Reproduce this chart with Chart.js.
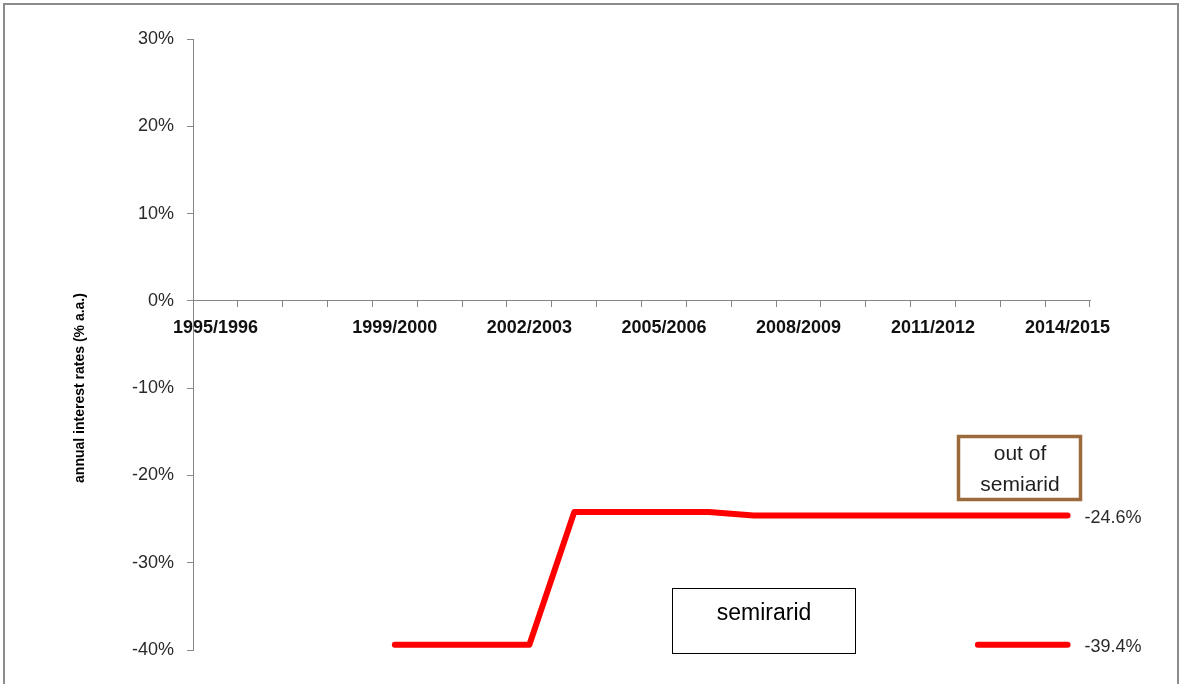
<!DOCTYPE html>
<html>
<head>
<meta charset="utf-8">
<script src="https://cdn.jsdelivr.net/npm/chart.js@4/dist/chart.umd.min.js"></script>
<style>
    html, body { margin: 0; padding: 0; background: #fff; }
    #wrap { width: 1180px; height: 684px; }
</style>
</head>
<body>
<div id="wrap"><canvas id="rates" width="1180" height="684"></canvas></div>
<script>
// seasons on the x axis (all 20 categories)
const seasons = [
    '1995/1996', '1996/1997', '1997/1998', '1998/1999', '1999/2000',
    '2000/2001', '2001/2002', '2002/2003', '2003/2004', '2004/2005',
    '2005/2006', '2006/2007', '2007/2008', '2008/2009', '2009/2010',
    '2010/2011', '2011/2012', '2012/2013', '2013/2014', '2014/2015'
];
// only these get a printed label
const shownSeasons = ['1995/1996', '1999/2000', '2002/2003', '2005/2006', '2008/2009', '2011/2012', '2014/2015'];

// annual interest rates, % a.a.
const outOfSemiarid = [null, null, null, null, -39.4, -39.4, -39.4, -39.4, -24.2, -24.2,
    -24.2, -24.2, -24.6, -24.6, -24.6, -24.6, -24.6, -24.6, -24.6, -24.6];
const semiarid = [null, null, null, null, null, null, null, null, null, null,
    null, null, null, null, null, null, null, -39.4, -39.4, -39.4];

const yTicks = [30, 20, 10, 0, -10, -20, -30, -40];

const axisGray = '#868686';
const textColor = '#2a2a2a';

// frame, y title, text boxes and end labels
const decorPlugin = {
    id: 'decor',
    beforeDraw(chart) {
        const ctx = chart.ctx;
        ctx.save();
        ctx.fillStyle = '#fff';
        ctx.fillRect(0, 0, chart.width, chart.height);
        ctx.strokeStyle = '#8c8c8c';
        ctx.lineWidth = 2;
        ctx.strokeRect(4, 4, 1174, 800);
        ctx.restore();
    },
    afterDraw(chart) {
        const ctx = chart.ctx;
        ctx.save();

        // axis title
        ctx.translate(80, 388);
        ctx.rotate(-Math.PI / 2);
        ctx.font = 'bold 14px "Liberation Sans", Arial, sans-serif';
        ctx.fillStyle = '#000';
        ctx.textAlign = 'center';
        ctx.textBaseline = 'middle';
        ctx.fillText('annual interest rates (% a.a.)', 0, 0);
        ctx.setTransform(1, 0, 0, 1, 0, 0);

        // value at the end of each line
        const x = chart.scales.x;
        const y = chart.scales.y;
        ctx.font = '18px "Liberation Sans", Arial, sans-serif';
        ctx.fillStyle = textColor;
        ctx.textAlign = 'left';
        chart.data.datasets.forEach(ds => {
            const last = ds.data.length - 1;
            const v = ds.data[last];
            ctx.fillText(v.toFixed(1) + '%', x.getPixelForValue(last) + 17, y.getPixelForValue(v) + 2);
        });

        // "semirarid" box
        ctx.strokeStyle = '#000';
        ctx.lineWidth = 1;
        ctx.strokeRect(672.5, 588.5, 183, 65);
        ctx.fillStyle = '#000';
        ctx.font = '23px "Liberation Sans", Arial, sans-serif';
        ctx.textAlign = 'center';
        ctx.fillText('semirarid', 764, 614);

        // "out of semiarid" box
        ctx.strokeStyle = '#9c6a3a';
        ctx.lineWidth = 3.5;
        ctx.strokeRect(958.5, 436.5, 122, 63);
        ctx.fillStyle = '#1f1f1f';
        ctx.font = '21px "Liberation Sans", Arial, sans-serif';
        ctx.fillText('out of', 1020, 454);
        ctx.fillText('semiarid', 1020, 485);

        ctx.restore();
    }
};

new Chart(document.getElementById('rates'), {
    type: 'line',
    data: {
        labels: seasons,
        datasets: [
            {
                label: 'out of semiarid',
                data: outOfSemiarid,
                borderColor: '#ff0000',
                borderWidth: 6,
                borderCapStyle: 'round',
                borderJoinStyle: 'round',
                pointRadius: 0,
                tension: 0
            },
            {
                label: 'semiarid',
                data: semiarid,
                borderColor: '#ff0000',
                borderWidth: 6,
                borderCapStyle: 'round',
                pointRadius: 0,
                tension: 0
            }
        ]
    },
    options: {
        responsive: false,
        animation: false,
        layout: {
            padding: { left: 0, top: 39, right: 90, bottom: 34 }
        },
        plugins: {
            legend: { display: false },
            tooltip: { enabled: false }
        },
        scales: {
            x: {
                position: { y: 0 },
                offset: true,
                grid: {
                    offset: true,
                    drawOnChartArea: false,
                    drawTicks: true,
                    tickLength: 6,
                    color: axisGray
                },
                border: { color: axisGray, width: 1 },
                ticks: {
                    autoSkip: false,
                    maxRotation: 0,
                    padding: 10,
                    color: '#111',
                    font: { family: '"Liberation Sans", Arial, sans-serif', size: 18, weight: 'bold' },
                    callback: function (value, index) {
                        const s = seasons[index];
                        return shownSeasons.includes(s) ? s : '';
                    }
                }
            },
            y: {
                min: -40,
                max: 30,
                afterFit: s => { s.width = 193; },
                afterBuildTicks: s => { s.ticks = yTicks.map(v => ({ value: v })); },
                grid: {
                    drawOnChartArea: false,
                    drawTicks: true,
                    tickLength: 6,
                    color: axisGray
                },
                border: { color: axisGray, width: 1 },
                ticks: {
                    padding: 13,
                    color: textColor,
                    font: { family: '"Liberation Sans", Arial, sans-serif', size: 18 },
                    callback: v => v + '%'
                }
            }
        }
    },
    plugins: [decorPlugin]
});
</script>
</body>
</html>
